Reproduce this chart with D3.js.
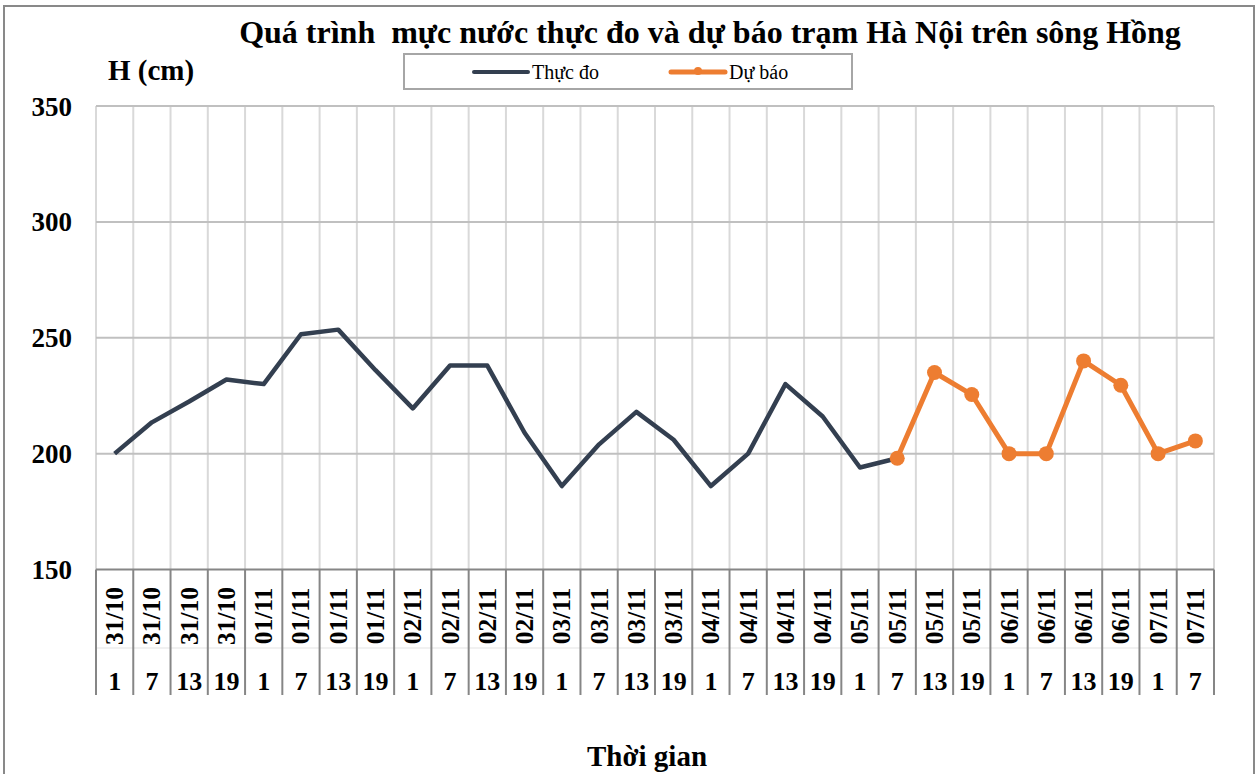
<!DOCTYPE html>
<html><head><meta charset="utf-8">
<script src="https://cdn.jsdelivr.net/npm/d3@7"></script>
<style>body{margin:0;background:#fff}svg{display:block}text{white-space:pre}</style>
</head><body>
<script>
const dates = ["31/10","31/10","31/10","31/10","01/11","01/11","01/11","01/11","02/11","02/11","02/11","02/11","03/11","03/11","03/11","03/11","04/11","04/11","04/11","04/11","05/11","05/11","05/11","05/11","06/11","06/11","06/11","06/11","07/11","07/11"];
const hours = ["1","7","13","19","1","7","13","19","1","7","13","19","1","7","13","19","1","7","13","19","1","7","13","19","1","7","13","19","1","7"];
const observed = [200,213.5,222.5,232,230,251.5,253.5,236,219.5,238,238,209,186,204,218,206,186,200,230,216,194,198];
const forecast = [null,null,null,null,null,null,null,null,null,null,null,null,null,null,null,null,null,null,null,null,null,198,235,225.5,200,200,240,229.5,200,205.5];
const yTicks = [150,200,250,300,350];
const title = "Quá trình  mực nước thực đo và dự báo trạm Hà Nội trên sông Hồng";
const yTitle = "H (cm)";
const xTitle = "Thời gian";
const seriesNames = ["Thực đo","Dự báo"];

const W=1259,H=774;
const font="'Liberation Serif','Times New Roman',serif";
const svg=d3.select("body").append("svg").attr("width",W).attr("height",H);
svg.append("rect").attr("x",4).attr("y",6).attr("width",1250).attr("height",H+10).attr("fill","#fff").attr("stroke","#898989").attr("stroke-width",2);

const idx=d3.range(dates.length);
const x=d3.scaleBand().domain(idx).range([96,1214]).padding(0);
const y=d3.scaleLinear().domain([150,350]).range([569.5,106]);
const cx=i=>x(i)+x.bandwidth()/2;

// vertical gridlines
svg.append("g").selectAll("line").data(d3.range(dates.length+1)).join("line")
 .attr("x1",i=>x.range()[0]+i*x.bandwidth()).attr("x2",i=>x.range()[0]+i*x.bandwidth())
 .attr("y1",106).attr("y2",569.5).attr("stroke","#d9d9d9").attr("stroke-width",2);
// horizontal gridlines
svg.append("g").selectAll("line").data(yTicks.slice(1)).join("line")
 .attr("x1",96).attr("x2",1214).attr("y1",d=>y(d)).attr("y2",d=>y(d)).attr("stroke","#c0c0c0").attr("stroke-width",2);

// y labels
svg.append("g").selectAll("text").data(yTicks).join("text")
 .attr("x",72).attr("y",d=>y(d)+9.5).attr("text-anchor","end")
 .attr("font-family",font).attr("font-weight","bold").attr("font-size",27).text(d=>d);

// x axis table
const ax=svg.append("g");
ax.append("line").attr("x1",96).attr("x2",1214).attr("y1",648).attr("y2",648).attr("stroke","#e3e3e3").attr("stroke-width",1);
ax.append("line").attr("x1",96).attr("x2",1214).attr("y1",569.5).attr("y2",569.5).attr("stroke","#868686").attr("stroke-width",2);
ax.selectAll("line.sep").data(d3.range(dates.length+1)).join("line").attr("class","sep")
 .attr("x1",i=>x.range()[0]+i*x.bandwidth()).attr("x2",i=>x.range()[0]+i*x.bandwidth())
 .attr("y1",569.5).attr("y2",695).attr("stroke","#868686").attr("stroke-width",2);
ax.selectAll("text.d").data(idx).join("text").attr("class","d")
 .attr("transform",i=>`translate(${cx(i)+8.5},616) rotate(-90)`).attr("text-anchor","middle")
 .attr("font-family",font).attr("font-weight","bold").attr("font-size",25.5).text(i=>dates[i]);
ax.selectAll("text.h").data(idx).join("text").attr("class","h")
 .attr("x",i=>cx(i)).attr("y",690).attr("text-anchor","middle")
 .attr("font-family",font).attr("font-weight","bold").attr("font-size",26).text(i=>hours[i]);

// lines
const line=d3.line().defined(d=>d[1]!=null).x(d=>cx(d[0])).y(d=>y(d[1]));
svg.append("path").datum(observed.map((v,i)=>[i,v])).attr("d",line).attr("fill","none")
 .attr("stroke","#333f50").attr("stroke-width",4.5).attr("stroke-linejoin","round");
const fc=forecast.map((v,i)=>[i,v]);
svg.append("path").datum(fc).attr("d",line).attr("fill","none")
 .attr("stroke","#ed7d31").attr("stroke-width",5).attr("stroke-linejoin","round");
svg.append("g").selectAll("circle").data(fc.filter(d=>d[1]!=null)).join("circle")
 .attr("cx",d=>cx(d[0])).attr("cy",d=>y(d[1])).attr("r",7.5).attr("fill","#ed7d31");

// titles
svg.append("text").attr("x",710).attr("y",43).attr("text-anchor","middle")
 .attr("font-family",font).attr("font-weight","bold").attr("font-size",32).text(title);
svg.append("text").attr("x",108).attr("y",80)
 .attr("font-family",font).attr("font-weight","bold").attr("font-size",29).text(yTitle);
svg.append("text").attr("x",647).attr("y",766).attr("text-anchor","middle")
 .attr("font-family",font).attr("font-weight","bold").attr("font-size",29).text(xTitle);

// legend
const lg=svg.append("g");
lg.append("rect").attr("x",404).attr("y",54).attr("width",448).attr("height",35).attr("fill","#fff").attr("stroke","#a6a6a6").attr("stroke-width",2);
lg.append("line").attr("x1",474).attr("x2",528).attr("y1",72).attr("y2",72).attr("stroke","#333f50").attr("stroke-width",4).attr("stroke-linecap","round");
lg.append("text").attr("x",532).attr("y",79).attr("font-family",font).attr("font-size",20).text(seriesNames[0]);
lg.append("line").attr("x1",671).attr("x2",725).attr("y1",72).attr("y2",72).attr("stroke","#ed7d31").attr("stroke-width",5).attr("stroke-linecap","round");
lg.append("circle").attr("cx",698).attr("cy",71).attr("r",4).attr("fill","#ed7d31");
lg.append("text").attr("x",729).attr("y",79).attr("font-family",font).attr("font-size",20).text(seriesNames[1]);
</script>
</body></html>
